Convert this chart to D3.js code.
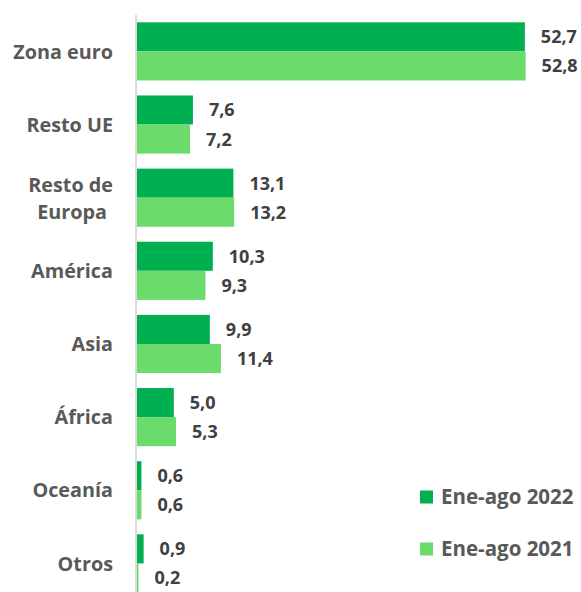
<!DOCTYPE html>
<html>
<head>
<meta charset="utf-8">
<script src="https://cdn.jsdelivr.net/npm/d3@7"></script>
<style>
  body { margin: 0; background: #fff; }
  text { font-family: "Open Sans", sans-serif; font-weight: bold; }
</style>
</head>
<body>
<div id="chart"></div>
<script>
const categories = ["Zona euro", "Resto UE", "Resto de Europa", "América", "Asia", "África", "Oceanía", "Otros"]
const series = ["Ene-ago 2022", "Ene-ago 2021"]
const values2022 = [52.7, 7.6, 13.1, 10.3, 9.9, 5.0, 0.6, 0.9]
const values2021 = [52.8, 7.2, 13.2, 9.3, 11.4, 5.3, 0.6, 0.2]
const colors = ["#00b050", "#6bdb6b"]

const width = 581, height = 592
const margin = {top: 15, left: 137}

const svg = d3.select("#chart").append("svg")
  .attr("width", width)
  .attr("height", height)

const x = d3.scaleLinear()
  .domain([0, 52.8])
  .range([margin.left, margin.left + 52.8 * 7.36])

const y = d3.scaleBand()
  .domain(categories)
  .range([margin.top, margin.top + 8 * 73.1])
  .paddingInner(0.205)
  .paddingOuter(0.1)

const ySub = d3.scaleBand()
  .domain(series)
  .range([0, y.bandwidth()])

const rows = categories.map((c, i) => ({cat: c, vals: [values2022[i], values2021[i]]}))

const fmt = v => d3.format(".1f")(v).replace(".", ",")

const groups = svg.append("g").selectAll("g")
  .data(rows)
  .join("g")
    .attr("transform", d => `translate(0,${y(d.cat)})`)

groups.selectAll("rect")
  .data(d => d.vals.map((v, j) => ({v, s: series[j], j})))
  .join("rect")
    .attr("x", x(0))
    .attr("y", d => ySub(d.s))
    .attr("width", d => x(d.v) - x(0))
    .attr("height", ySub.bandwidth())
    .attr("fill", d => colors[d.j])

groups.selectAll("text.val")
  .data(d => d.vals.map((v, j) => ({v, s: series[j]})))
  .join("text")
    .attr("class", "val")
    .attr("x", d => x(d.v) + 16)
    .attr("y", d => ySub(d.s) + ySub.bandwidth() / 2)
    .attr("dy", "0.36em")
    .attr("font-size", 18)
    .attr("fill", "#404040")
    .text(d => fmt(d.v))

// axis line
svg.append("line")
  .attr("x1", x(0) - 1).attr("x2", x(0) - 1)
  .attr("y1", margin.top).attr("y2", height)
  .attr("stroke", "#d9d9d9")
  .attr("stroke-width", 2)

// category labels
const labels = svg.append("g").selectAll("text")
  .data(categories)
  .join("text")
    .attr("x", 113)
    .attr("y", d => y(d) + y.bandwidth() / 2)
    .attr("text-anchor", "end")
    .attr("font-size", 19.8)
    .attr("fill", "#595959")

labels.each(function(d) {
  const t = d3.select(this)
  const cy = y(d) + y.bandwidth() / 2
  if (d === "Resto de Europa") {
    t.append("tspan").attr("x", 113).attr("y", cy - 13).attr("dy", "0.36em").text("Resto de")
    t.append("tspan").attr("x", 107).attr("y", cy + 14).attr("dy", "0.36em").text("Europa")
  } else {
    t.attr("dy", "0.36em").text(d)
  }
})

// legend
const legend = svg.append("g").selectAll("g")
  .data(series)
  .join("g")
    .attr("transform", (d, i) => `translate(420,${497 + i * 52})`)

legend.append("rect")
  .attr("x", 0).attr("y", -6.5)
  .attr("width", 13).attr("height", 13)
  .attr("fill", (d, i) => colors[i])

legend.append("text")
  .attr("x", 21)
  .attr("dy", "0.36em")
  .attr("font-size", 20.5)
  .attr("fill", "#595959")
  .text(d => d)
</script>
</body>
</html>
